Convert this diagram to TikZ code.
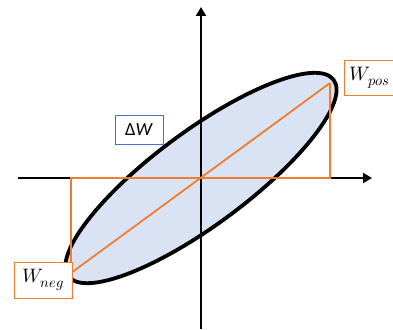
\documentclass[tikz,border=0pt]{standalone}
\usepackage{fontspec}
\usepackage{unicode-math}
\setmathfont{Latin Modern Math}
\DeclareMathSizes{19.5}{19.5}{14.5}{11}
\newfontfamily\carlito{Carlito}
\usetikzlibrary{arrows.meta}
\definecolor{wor}{HTML}{ED7D31}
\definecolor{wbl}{HTML}{4472C4}
\definecolor{wfill}{HTML}{DAE3F3}
\tikzset{
  axis/.style={line width=2.6pt,-{Triangle[length=9pt,width=10pt]}},
  guide/.style={draw=wor,line width=1.8pt},
  lbl/.style={draw,line width=0.9pt,fill=white,inner sep=0pt,font=\fontsize{19.5}{22}\selectfont},
}
\begin{document}
\begin{tikzpicture}[x=1pt,y=-1pt]
\useasboundingbox (0,0) rectangle (393,329);
% ellipse
\draw[shift={(201,178)},rotate=36.5,fill=wfill,line width=3.8pt] (0,0) ellipse [x radius=165pt,y radius=47pt];
% axes
\coordinate (xs) at (18,178);
\coordinate (xe) at (372,178);
\coordinate (ys) at (201,329);
\coordinate (ye) at (201,7);
\draw[axis] (xs) -- (xe);
\draw[axis] (ys) -- (ye);
% orange guides
\coordinate (pn) at (71,273);
\coordinate (pp) at (330,83);
\coordinate (an) at (71,178);
\coordinate (ap) at (330,178);
\draw[guide] (pn) -- (an) -- (ap) -- (pp);
\draw[guide] (pn) -- (pp);
% labels
\node[lbl,draw=wor,minimum width=51pt,minimum height=35pt] (wpos) at (370,77.5) {$W_{pos}$};
\node[lbl,draw=wbl,minimum width=48pt,minimum height=29pt,font=\carlito\fontsize{18.5}{20}\selectfont] (dw) at (139,129.5) {Δ\textit{W}};
\node[lbl,draw=wor,minimum width=58pt,minimum height=36pt] (wneg) at (43,280) {$W_{neg}$};
\end{tikzpicture}
\end{document}
